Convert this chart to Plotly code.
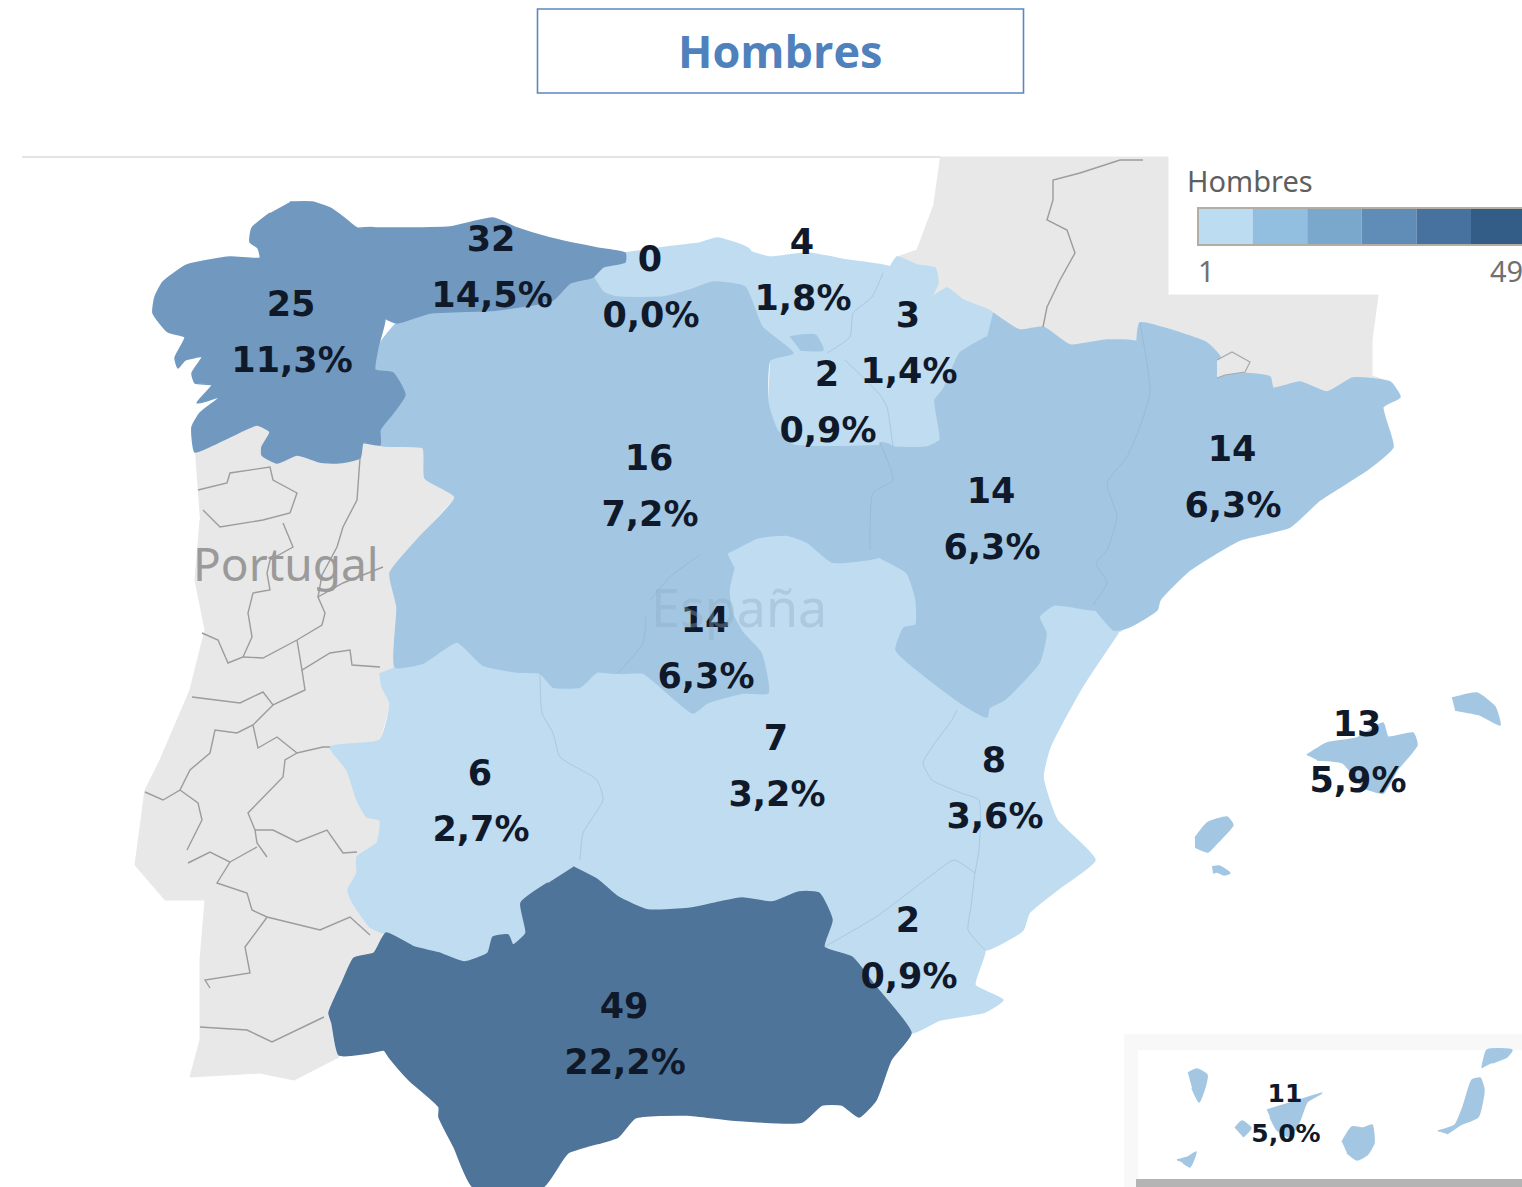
import plotly.graph_objects as go

# ---------- data ----------
regions = ["Galicia", "Asturias", "Cantabria", "País Vasco", "Navarra", "La Rioja",
           "Castilla y León", "Aragón", "Cataluña", "Madrid", "Castilla-La Mancha",
           "C. Valenciana", "Extremadura", "Murcia", "Andalucía", "Baleares", "Canarias"]
counts = [25, 32, 0, 4, 3, 2, 16, 14, 14, 14, 7, 8, 6, 2, 49, 13, 11]
percents = ["11,3%", "14,5%", "0,0%", "1,8%", "1,4%", "0,9%", "7,2%", "6,3%", "6,3%",
            "6,3%", "3,2%", "3,6%", "2,7%", "0,9%", "22,2%", "5,9%", "5,0%"]
legend_labels = ["1", "49"]
legend_title = "Hombres"
title_text = "Hombres"

# ---------- map geometry (map units = picture pixels) ----------
OUT = {}
OUT["Galicia"] = [(290,202),(312,202),(330,208),(343,217),(357,228),(375,228),(378,260),(370,290),(385,318),(378,347),(375,370),(393,373),(405,395),(393,413),(380,430),(380,445),(363,443),(360,458),(337,463),(320,462),(297,455),(277,463),(262,455),(262,447),(270,432),(257,425),(240,432),(217,443),(195,452),(192,427),(200,413),(220,397),(197,403),(212,385),(195,383),(192,373),(202,357),(185,360),(178,368),(175,358),(185,337),(168,332),(153,313),(155,297),(163,282),(187,265),(230,257),(260,258),(258,248),(250,242),(252,228),(270,213)]
OUT["Asturias"] = [(375,228),(450,227),(493,218),(517,228),(550,238),(597,248),(625,253),(625,262),(603,267),(593,277),(570,283),(553,300),(497,310),(430,313),(397,323),(385,318),(370,290),(378,260)]
OUT["Cantabria"] = [(625,253),(667,247),(700,243),(717,238),(750,250),(745,287),(713,282),(690,290),(663,297),(617,297),(603,292),(595,280),(593,277),(603,267),(625,262)]
OUT["País Vasco"] = [(745,250),(770,257),(807,253),(847,260),(890,267),(883,273),(872,297),(853,313),(850,337),(827,353),(793,353),(762,327),(745,287)]
OUT["Navarra"] = [(850,337),(853,313),(872,297),(883,273),(890,267),(897,257),(917,265),(935,268),(938,283),(932,297),(947,288),(963,300),(993,313),(987,337),(960,353),(953,367),(943,390),(935,400),(940,440),(927,447),(893,447),(887,407),(880,395),(845,360),(827,353)]
OUT["La Rioja"] = [(770,360),(793,353),(827,353),(845,360),(880,395),(887,407),(893,447),(890,445),(793,445),(777,430),(768,403)]
OUT["Castilla y León"] = [(380,445),(380,430),(393,413),(405,395),(393,373),(375,370),(378,347),(397,323),(430,313),(497,310),(553,300),(570,283),(593,277),(595,280),(603,292),(617,297),(663,297),(690,290),(713,282),(745,287),(762,327),(793,353),(770,360),(768,403),(777,430),(793,445),(890,445),(880,443),(893,480),(873,493),(870,550),(879,557),(832,562),(807,542),(786,535),(757,538),(727,553),(700,555),(672,575),(650,600),(646,617),(643,643),(618,673),(597,672),(580,687),(553,687),(540,673),(517,672),(483,665),(457,642),(423,663),(395,667),(397,607),(390,573),(417,540),(455,497),(425,478),(423,448),(380,445),
    None,(790,337),(815,335),(823,350),(800,350)]
OUT["Aragón"] = [(993,313),(1020,330),(1043,327),(1070,345),(1107,340),(1137,342),(1147,363),(1150,393),(1140,427),(1127,457),(1107,483),(1117,517),(1107,550),(1096,563),(1107,583),(1093,605),(1096,610),(1054,605),(1039,617),(1046,633),(1039,663),(1004,700),(989,708),(987,717),(961,703),(921,673),(896,650),(904,628),(916,625),(916,600),(907,573),(879,557),(870,550),(873,493),(893,480),(880,443),(890,445),(893,447),(927,447),(940,440),(935,400),(943,390),(953,367),(960,353),(987,337)]
OUT["Cataluña"] = [(1137,342),(1140,323),(1180,333),(1207,343),(1220,357),(1217,377),(1237,373),(1270,377),(1273,388),(1300,382),(1327,392),(1353,378),(1390,382),(1400,397),(1383,407),(1390,433),(1393,447),(1367,470),(1320,500),(1290,527),(1240,540),(1190,570),(1160,600),(1157,610),(1129,627),(1114,630),(1096,610),(1093,605),(1107,583),(1096,563),(1107,550),(1117,517),(1107,483),(1127,457),(1140,427),(1150,393),(1147,363)]
OUT["Madrid"] = [(727,553),(700,555),(672,575),(650,600),(646,617),(643,643),(618,673),(643,673),(693,713),(707,703),(743,693),(768,693),(761,653),(743,633),(732,613),(729,590),(734,567)]
OUT["Castilla-La Mancha"] = [(540,673),(553,687),(580,687),(597,672),(618,673),(643,673),(693,713),(707,703),(743,693),(768,693),(761,653),(743,633),(732,613),(729,590),(734,567),(727,553),(757,538),(786,535),(807,542),(832,562),(879,557),(907,573),(916,600),(916,625),(904,628),(896,650),(921,673),(961,703),(987,717),(957,710),(952,720),(932,747),(923,763),(932,780),(961,793),(979,800),(979,850),(975,873),(954,860),(929,877),(876,917),(824,947),(832,920),(819,893),(799,892),(772,902),(742,898),(720,902),(692,908),(648,910),(618,897),(598,880),(573,867),(568,870),(580,860),(583,833),(603,800),(597,780),(560,757),(553,733),(542,713)]
OUT["C. Valenciana"] = [(1129,627),(1114,630),(1096,610),(1054,605),(1039,617),(1046,633),(1039,663),(1004,700),(989,708),(987,717),(957,710),(952,720),(932,747),(923,763),(932,780),(961,793),(979,800),(979,850),(975,873),(971,907),(968,930),(985,950),(1023,930),(1029,913),(1061,887),(1095,860),(1057,820),(1043,777),(1050,747),(1082,687),(1118,633)]
OUT["Extremadura"] = [(395,667),(423,663),(457,642),(483,665),(517,672),(540,673),(542,713),(553,733),(560,757),(597,780),(603,800),(583,833),(580,860),(568,870),(548,883),(521,903),(526,933),(513,945),(508,935),(493,937),(488,953),(464,962),(439,953),(414,947),(386,933),(383,933),(370,927),(353,903),(348,890),(357,873),(357,857),(377,843),(380,820),(367,817),(357,800),(347,770),(330,747),(380,740),(390,703),(382,687),(380,673)]
OUT["Murcia"] = [(824,947),(876,917),(929,877),(954,860),(975,873),(971,907),(968,930),(985,950),(975,985),(1003,1000),(985,1012),(940,1020),(911,1033),(876,987),(852,957)]
OUT["Andalucía"] = [(573,867),(598,880),(618,897),(648,910),(692,908),(720,902),(742,898),(772,902),(799,892),(819,893),(832,920),(824,947),(852,957),(876,987),(911,1033),(891,1060),(876,1100),(859,1117),(842,1105),(822,1105),(802,1122),(732,1120),(687,1115),(635,1118),(618,1137),(568,1153),(543,1187),(473,1187),(454,1147),(439,1117),(439,1107),(409,1080),(389,1057),(384,1050),(369,1053),(339,1055),(332,1023),(329,1013),(342,983),(354,958),(374,953),(386,933),(414,947),(439,953),(464,962),(488,953),(493,937),(508,935),(513,945),(526,933),(521,903),(548,883)]
OUT["Baleares"] = [(1307,755),(1327,743),(1357,738),(1383,723),(1388,737),(1413,733),(1417,745),(1397,770),(1383,793),(1363,787),(1343,763),(1317,760),
    None,(1452,698),(1477,693),(1495,707),(1500,725),(1480,715),(1455,710),
    None,(1195,838),(1207,823),(1227,817),(1233,825),(1217,843),(1208,852),(1195,847),
    None,(1212,867),(1219,866),(1230,873),(1224,875),(1217,872),(1213,873)]
OUT["Canarias"] = [(1188,1073),(1197,1069),(1207,1075),(1205,1087),(1199,1102),(1192,1088),
    None,(1235,1128),(1242,1121),(1251,1128),(1243,1137),
    None,(1177,1160),(1188,1157),(1196,1152),(1190,1167),(1183,1163),
    None,(1267,1110),(1300,1100),(1322,1093),(1307,1102),(1300,1120),(1290,1137),(1277,1130),(1270,1117),
    None,(1342,1142),(1352,1127),(1363,1128),(1372,1125),(1374,1143),(1367,1155),(1357,1160),(1347,1153),
    None,(1438,1131),(1455,1125),(1463,1107),(1472,1080),(1480,1078),(1484,1090),(1478,1117),(1460,1125),(1447,1134),
    None,(1482,1068),(1487,1050),(1512,1050),(1507,1057),(1492,1063)]

PORTUGAL = [(195,452),(217,443),(240,432),(257,425),(270,432),(262,447),(262,455),(277,463),(297,455),(320,462),(337,463),(360,458),(363,443),(380,445),(423,448),(425,478),(455,497),(417,540),(390,573),(397,607),(395,667),(380,673),(382,687),(390,703),(380,740),(330,747),(347,770),(357,800),(367,817),(380,820),(377,843),(357,857),(357,873),(348,890),(353,903),(370,927),(383,933),(374,953),(354,958),(342,983),(329,1013),(332,1023),(339,1057),(294,1080),(260,1073),(190,1077),(200,1040),(200,960),(205,900),(165,900),(135,865),(145,790),(160,760),(190,690),(205,630),(195,580),(200,520)]
FRANCE = [(940,157),(1168,157),(1168,295),(1378,295),(1372,340),(1372,376),(1390,382),(1353,378),(1327,392),(1300,382),(1273,388),(1270,377),(1237,373),(1217,377),(1220,357),(1207,343),(1180,333),(1140,323),(1137,342),(1107,340),(1070,345),(1043,327),(1020,330),(993,313),(963,300),(947,288),(932,297),(938,283),(935,268),(917,265),(897,257),(917,250),(933,207)]
ANDORRA = [(1217,360),(1232,352),(1250,362),(1245,372),(1225,375),(1217,378)]

GREY_LINES = [
    [(198,490),(227,483),(230,473),(270,467),(273,480),(297,493),(290,513),(263,520),(220,527),(203,510)],
    [(360,458),(357,500),(343,527),(337,547),(322,575),(318,597)],
    [(283,523),(293,547),(270,560),(267,573),(270,590),(253,593),(248,613),(252,637),(243,657),(228,663),(218,640),(202,633)],
    [(243,657),(263,658),(297,640),(322,625),(325,613),(318,597),(343,583),(383,567)],
    [(297,640),(302,670),(330,653),(350,650),(352,665),(380,667)],
    [(302,670),(305,690),(273,705),(263,692),(240,703),(192,697)],
    [(273,705),(253,725),(237,733),(215,730),(210,753),(190,770),(180,790),(163,800),(145,792)],
    [(253,725),(258,748),(277,737),(297,753),(323,747),(330,747)],
    [(297,753),(285,760),(283,777),(248,813),(255,830),(257,843),(267,857)],
    [(180,790),(198,803),(202,820),(187,850)],
    [(255,830),(273,830),(297,842),(327,830),(343,853),(357,852)],
    [(188,863),(210,852),(230,862),(217,883),(247,893),(252,910),(267,917),(320,930),(350,917),(370,935)],
    [(230,862),(257,847)],
    [(267,917),(265,920),(245,947),(250,973),(205,980),(210,988)],
    [(200,1027),(247,1030),(272,1042),(324,1017)],
    [(1143,160),(1120,160),(1080,173),(1053,180),(1053,200),(1047,220),(1067,230),(1075,253),(1060,280),(1047,307),(1043,327)],
]
SOFT_LINES = [
    [(883,273),(872,297),(853,313),(850,337),(827,353)],
    [(845,360),(880,395),(887,407),(893,447)],
    [(880,443),(893,480),(873,493),(870,550)],
    [(1140,323),(1147,363),(1150,393),(1140,427),(1127,457),(1107,483),(1117,517),(1107,550),(1096,563),(1107,583),(1093,605)],
    [(540,673),(542,713),(553,733),(560,757),(597,780),(603,800),(583,833),(580,860)],
    [(957,710),(952,720),(932,747),(923,763),(932,780),(961,793),(979,800),(979,850),(975,873),(971,907),(968,930),(985,950)],
    [(824,947),(876,917),(929,877),(954,860),(975,873)],
    [(646,617),(643,643),(618,673)],
    [(650,600),(672,575),(700,555)],
]
# anchors of the two-line labels, in map units
ANCHOR = {"Galicia":(291,307),"Asturias":(491,242),"Cantabria":(650,262),"País Vasco":(802,245),
          "Navarra":(908,318),"La Rioja":(827,377),"Castilla y León":(649,461),"Aragón":(991,494),
          "Cataluña":(1232,452),"Madrid":(705,623),"Castilla-La Mancha":(776,741),"C. Valenciana":(994,763),
          "Extremadura":(480,776),"Murcia":(908,923),"Andalucía":(624,1009),"Baleares":(1357,727),
          "Canarias":(1285,1096)}

LEGEND_STEPS = ["#bcddf1", "#92bfe0", "#7aa8cd", "#5f8db8", "#47719f", "#335c87"]

def colour_of(n):
    if n <= 8:
        return "#bfdcf0"
    if n <= 16:
        return "#a3c7e3"
    if n <= 32:
        return "#7199c0"
    return "#4f7499"

def xy(points):
    xs, ys = [], []
    for p in points:
        xs.append(None if p is None else p[0])
        ys.append(None if p is None else p[1])
    return xs, ys

fig = go.Figure()

# neighbouring land
for name, pts in [("Portugal", PORTUGAL), ("Francia", FRANCE)]:
    x, y = xy(pts)
    fig.add_trace(go.Scatter(x=x, y=y, mode="lines", fill="toself", fillcolor="#e8e8e8",
                             line=dict(color="#e8e8e8", width=1), hoverinfo="skip", name=name))

shapes = [
    dict(type="rect", x0=1124, x1=1522, y0=1034, y1=1187, fillcolor="#f8f8f8", line_width=0, layer="below"),
    dict(type="rect", x0=1136, x1=1522, y0=1179, y1=1187, fillcolor="#b4b4b4", line_width=0, layer="below"),
    dict(type="rect", x0=1138, x1=1522, y0=1050, y1=1179, fillcolor="#ffffff", line_width=0, layer="below"),
    dict(type="line", x0=22, x1=940, y0=157, y1=157, line=dict(color="#e4e4e4", width=2), layer="below"),
    dict(type="rect", x0=537.5, x1=1023.5, y0=9, y1=93, fillcolor="#ffffff", line=dict(color="#5b87bf", width=1.6)),
]

# regions, lightest first so darker ones keep their edge
order = sorted(range(len(regions)), key=lambda i: counts[i])
for i in order:
    x, y = xy(OUT[regions[i]])
    c = colour_of(counts[i])
    fig.add_trace(go.Scatter(x=x, y=y, mode="lines", fill="toself", fillcolor=c,
                             line=dict(color=c, width=1.5, shape="spline", smoothing=0.5), name=regions[i],
                             hovertemplate=f"{regions[i]}: {counts[i]} ({percents[i]})<extra></extra>"))

for line in SOFT_LINES:
    x, y = xy(line)
    fig.add_trace(go.Scatter(x=x, y=y, mode="lines", line=dict(color="rgba(130,165,195,0.35)", width=1, shape="spline", smoothing=0.5), hoverinfo="skip"))
for line in GREY_LINES:
    x, y = xy(line)
    fig.add_trace(go.Scatter(x=x, y=y, mode="lines", line=dict(color="#9c9c9c", width=1.4), hoverinfo="skip"))
x, y = xy(ANDORRA)
fig.add_trace(go.Scatter(x=x, y=y, mode="lines", fill="toself", fillcolor="#e8e8e8",
                         line=dict(color="#a8a8a8", width=1.2), hoverinfo="skip"))

# legend colour steps, one per band
LEG_X0, LEG_STEP = 1198, 54.6
for k, col in enumerate(LEGEND_STEPS):
    shapes.append(dict(type="rect", x0=LEG_X0 + k * LEG_STEP, x1=LEG_X0 + (k + 1) * LEG_STEP, y0=208, y1=245,
                       fillcolor=col, line_width=0))
shapes.append(dict(type="path", path="M 1522 208 L 1198 208 L 1198 245 L 1522 245", line=dict(color="#b3aea3", width=2)))

# value labels
is_small = [r == "Canarias" for r in regions]
for small in (False, True):
    idx = [i for i in range(len(regions)) if is_small[i] == small]
    gap = 40 if small else 56
    size = 25 if small else 35
    fig.add_trace(go.Scatter(x=[ANCHOR[regions[i]][0] for i in idx], y=[ANCHOR[regions[i]][1] for i in idx],
                             mode="text", text=[str(counts[i]) for i in idx], textposition="middle center",
                             textfont=dict(family="DejaVu Sans", size=size, color="#10192a", weight="bold"), hoverinfo="skip"))
    fig.add_trace(go.Scatter(x=[ANCHOR[regions[i]][0] + 1 for i in idx], y=[ANCHOR[regions[i]][1] + gap for i in idx],
                             mode="text", text=[percents[i] for i in idx], textposition="middle center",
                             textfont=dict(family="DejaVu Sans", size=size, color="#10192a", weight="bold"), hoverinfo="skip"))

ann = [
    dict(x=780, y=50, text=title_text, font=dict(family="Open Sans", size=45, color="#4f81bd", weight="bold")),
    dict(x=1185, y=180, text=legend_title, xanchor="left", font=dict(family="Noto Sans", size=29, color="#5f5f5f")),
    dict(x=1196, y=270, text=legend_labels[0], xanchor="left", font=dict(family="Noto Sans", size=29, color="#707070")),
    dict(x=1488, y=270, text=legend_labels[1], xanchor="left", font=dict(family="Noto Sans", size=29, color="#707070")),
    dict(x=286, y=563, text="Portugal", font=dict(family="Noto Sans", size=46, color="#9a9a9a")),
    dict(x=739, y=606, text="España", font=dict(family="Noto Sans", size=52, color="rgba(140,170,195,0.38)")),
]
for a in ann:
    a.update(xref="x", yref="y", showarrow=False)
    a.setdefault("xanchor", "center")
    a["yanchor"] = "middle"

fig.update_layout(
    width=1522, height=1187, margin=dict(l=0, r=0, t=0, b=0),
    paper_bgcolor="white", plot_bgcolor="white", showlegend=False,
    xaxis=dict(range=[0, 1522], visible=False, fixedrange=True),
    yaxis=dict(range=[1187, 0], visible=False, fixedrange=True),
    shapes=shapes, annotations=ann,
)
fig.write_html("out.html", config={"displayModeBar": False},
               post_script="document.body.style.margin='0';document.body.style.overflow='hidden';")
